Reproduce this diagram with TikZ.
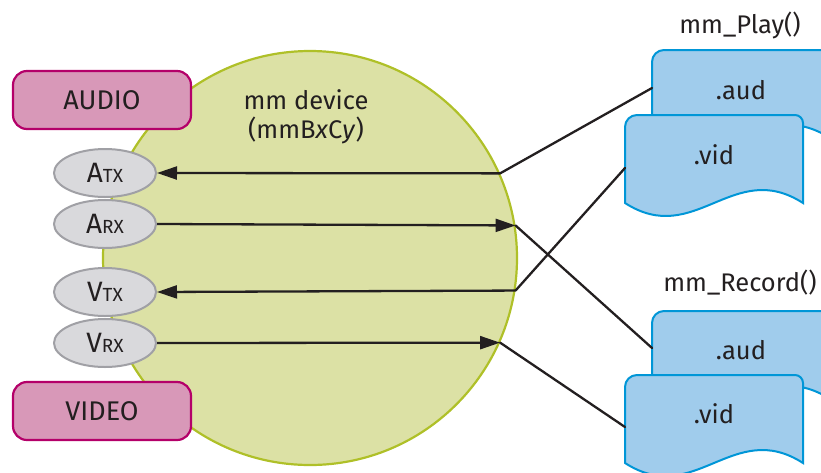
\documentclass[tikz,border=0pt]{standalone}
\usepackage{fontspec}
\setmainfont{Fira Sans}
\usetikzlibrary{arrows.meta,shapes.geometric}
\definecolor{circfill}{RGB}{220,225,165}
\definecolor{circline}{RGB}{175,192,40}
\definecolor{boxfill}{RGB}{216,152,184}
\definecolor{boxline}{RGB}{180,0,105}
\definecolor{ellfill}{RGB}{217,217,220}
\definecolor{ellline}{RGB}{160,160,165}
\definecolor{docfill}{RGB}{160,204,236}
\definecolor{docline}{RGB}{0,150,215}
\definecolor{ink}{RGB}{35,31,32}
\newcommand\bigsmall[2]{{\fontsize{28}{30}\selectfont #1}{\fontsize{19}{20}\selectfont #2}}
\newcommand\docpath[2]{%
  \begin{scope}[shift={(#1,#2)}]
    \draw[docstyle] (0,88) -- (0,12) arc[start angle=180, end angle=270, radius=12]
      -- (170,0) arc[start angle=270, end angle=360, radius=8]
      -- (178,88) .. controls (108,43) and (70,133) .. (0,88) -- cycle;
  \end{scope}}
\begin{document}
\begin{tikzpicture}[x=1pt,y=-1pt,
  txt/.style={text=ink,font=\fontsize{25.5}{29}\selectfont,inner sep=0pt},
  rbox/.style={txt,font=\fontsize{27}{30}\selectfont,draw=boxline,fill=boxfill,line width=2.2pt,rounded corners=14pt,minimum width=178pt,minimum height=58pt},
  ell/.style={txt,ellipse,draw=ellline,fill=ellfill,line width=2pt,minimum width=102pt,minimum height=48pt},
  docstyle/.style={draw=docline,fill=docfill,line width=2pt},
  conn/.style={draw=ink,line width=2.3pt},
  arr/.style={conn,-{Triangle[length=20pt,width=13pt]}}]
\useasboundingbox (0,0) rectangle (821,472);
\clip (0,0) rectangle (821,472);
% device circle
\node[circle,draw=circline,fill=circfill,line width=2.2pt,minimum size=414pt,inner sep=0pt] (dev) at (310,258) {};
\node[txt,align=center] (devlabel) at (306,117) {mm device\\(mmB\textit{x}C\textit{y})};
% boxes
\node[rbox] (audio) at (102,100) {AUDIO};
\node[rbox] (video) at (102,411) {VIDEO};
% ellipses
\node[ell] (atx) at (105,173) {\bigsmall{A}{TX}};
\node[ell] (arx) at (105,224) {\bigsmall{A}{RX}};
\node[ell] (vtx) at (105,292) {\bigsmall{V}{TX}};
\node[ell] (vrx) at (105,343) {\bigsmall{V}{RX}};
% documents
\docpath{652}{50}
\docpath{625}{115}
\docpath{652}{311}
\docpath{625}{375}
\node[txt] (playt) at (740,25) {mm\_Play()};
\node[txt] (rect) at (740,283) {mm\_Record()};
\node[txt] (paa) at (741,90) {.aud};
\node[txt] (pav) at (714,155) {.vid};
\node[txt] (raa) at (741,350) {.aud};
\node[txt] (rav) at (714,414) {.vid};
\coordinate (paa-in) at (652,88);
\coordinate (pav-in) at (625,168);
\coordinate (raa-in) at (652,348);
\coordinate (rav-in) at (625,427);
% connectors
\draw[arr] (dev.24.2) -- (atx.east);
\draw[arr] (arx.east) -- (dev.9.5);
\draw[arr] (dev.-9.5) -- (vtx.east);
\draw[arr] (vrx.east) -- (dev.-24.2);
\draw[conn,line cap=round] (dev.24.2) -- (paa-in);
\draw[conn,line cap=round] (dev.9.5) -- (raa-in);
\draw[conn,line cap=round] (dev.-9.5) -- (pav-in);
\draw[conn,line cap=round] (dev.-24.2) -- (rav-in);
\end{tikzpicture}
\end{document}
